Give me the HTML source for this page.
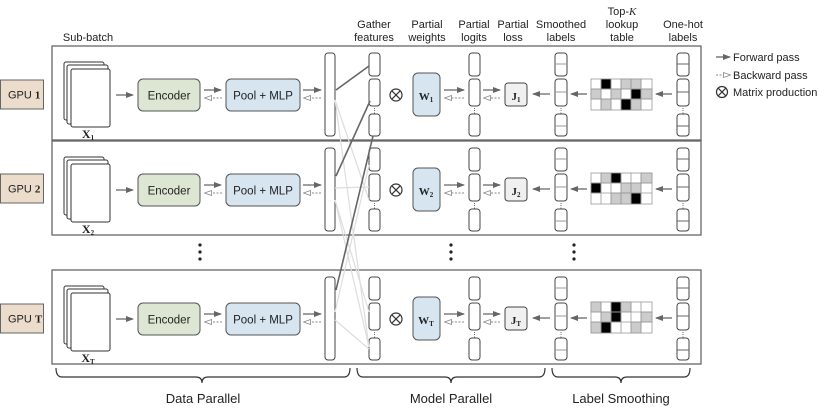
<!DOCTYPE html>
<html><head><style>body{margin:0;background:#fff}svg{display:block}</style></head><body>
<svg width="824" height="412" viewBox="0 0 824 412" xmlns="http://www.w3.org/2000/svg" font-family="Liberation Sans, sans-serif">
<defs>
<marker id="fa" markerWidth="8" markerHeight="6" refX="7" refY="3" orient="auto" markerUnits="userSpaceOnUse"><path d="M0,0 L8,3 L0,6z" fill="#666"/></marker>
<marker id="ba" markerWidth="8" markerHeight="6" refX="7" refY="3" orient="auto" markerUnits="userSpaceOnUse"><path d="M0.5,0.5 L7.5,3 L0.5,5.5z" fill="#fff" stroke="#888" stroke-width="0.8"/></marker>
<g id="panel">
 <rect x="52" y="0" width="649" height="94" fill="#fff" stroke="#666" stroke-width="1.3"/>
 <rect x="64" y="16" width="40" height="58" rx="2" fill="#fff" stroke="#333"/>
 <rect x="67" y="19" width="41" height="59" rx="2" fill="#fff" stroke="#333"/>
 <rect x="71" y="23" width="39" height="58" rx="2" fill="#fff" stroke="#333"/>
 <line x1="116" y1="49" x2="133" y2="49" stroke="#666" stroke-width="1.3" marker-end="url(#fa)"/>
 <rect x="138" y="33" width="62" height="32" rx="5" fill="#dde6d2" stroke="#555"/>
 <text x="169" y="53.5" font-size="11.5" text-anchor="middle" fill="#222">Encoder</text>
 <line x1="204" y1="44" x2="221" y2="44" stroke="#666" stroke-width="1.3" marker-end="url(#fa)"/>
 <line x1="222" y1="52" x2="205" y2="52" stroke="#888" stroke-dasharray="2,1.5" marker-end="url(#ba)"/>
 <rect x="226" y="33" width="74" height="32" rx="5" fill="#d7e5f0" stroke="#555"/>
 <text x="263" y="53.5" font-size="11.5" text-anchor="middle" fill="#222">Pool + MLP</text>
 <line x1="303" y1="44" x2="321" y2="44" stroke="#666" stroke-width="1.3" marker-end="url(#fa)"/>
 <line x1="321" y1="52" x2="304" y2="52" stroke="#888" stroke-dasharray="2,1.5" marker-end="url(#ba)"/>
 <rect x="325" y="7" width="10" height="83" rx="3" fill="#fff" stroke="#444"/>
 <!-- gather -->
 <rect x="369" y="7" width="11" height="23" rx="3" fill="#fff" stroke="#444"/>
 <rect x="369" y="33" width="11" height="27" rx="3" fill="#fff" stroke="#444"/>
 <text x="374.5" y="67" font-size="7" text-anchor="middle" fill="#333">⋮</text>
 <rect x="369" y="68" width="11" height="22" rx="3" fill="#fff" stroke="#444"/>
 <circle cx="396" cy="49" r="6" fill="none" stroke="#333" stroke-width="1.2"/>
 <path d="M391.8,44.8 L400.2,53.2 M400.2,44.8 L391.8,53.2" stroke="#333" stroke-width="1.2"/>
 <rect x="413" y="27" width="27" height="43" rx="5" fill="#d7e5f0" stroke="#555"/>
 <line x1="444" y1="44" x2="464" y2="44" stroke="#666" stroke-width="1.3" marker-end="url(#fa)"/>
 <line x1="464" y1="52" x2="445" y2="52" stroke="#888" stroke-dasharray="2,1.5" marker-end="url(#ba)"/>
 <rect x="469" y="7" width="11" height="23" rx="3" fill="#fff" stroke="#444"/>
 <rect x="469" y="33" width="11" height="27" rx="3" fill="#fff" stroke="#444"/>
 <text x="474.5" y="67" font-size="7" text-anchor="middle" fill="#333">⋮</text>
 <rect x="469" y="68" width="11" height="22" rx="3" fill="#fff" stroke="#444"/>
 <line x1="483" y1="44" x2="500" y2="44" stroke="#666" stroke-width="1.3" marker-end="url(#fa)"/>
 <line x1="500" y1="52" x2="484" y2="52" stroke="#888" stroke-dasharray="2,1.5" marker-end="url(#ba)"/>
 <rect x="505" y="37" width="22" height="23" rx="3" fill="#f0f0f0" stroke="#444"/>
 <line x1="550" y1="48" x2="533" y2="48" stroke="#666" stroke-width="1.3" marker-end="url(#fa)"/>
 <rect x="555" y="7" width="12" height="23" rx="3" fill="#fff" stroke="#444"/>
 <line x1="555" y1="18" x2="567" y2="18" stroke="#999"/>
 <rect x="555" y="33" width="12" height="27" rx="3" fill="#fff" stroke="#444"/>
 <line x1="555" y1="46" x2="567" y2="46" stroke="#999"/>
 <text x="561" y="67" font-size="7" text-anchor="middle" fill="#333">⋮</text>
 <rect x="555" y="68" width="12" height="22" rx="3" fill="#fff" stroke="#444"/>
 <line x1="555" y1="80" x2="567" y2="80" stroke="#999"/>
 <line x1="587" y1="48" x2="571" y2="48" stroke="#666" stroke-width="1.3" marker-end="url(#fa)"/>
 <line x1="672" y1="48" x2="656" y2="48" stroke="#666" stroke-width="1.3" marker-end="url(#fa)"/>
 <rect x="677" y="7" width="12" height="23" rx="3" fill="#fff" stroke="#444"/>
 <line x1="677" y1="18" x2="689" y2="18" stroke="#666"/>
 <rect x="677" y="33" width="12" height="27" rx="3" fill="#fff" stroke="#444"/>
 <line x1="677" y1="46" x2="689" y2="46" stroke="#666"/>
 <text x="683" y="67" font-size="7" text-anchor="middle" fill="#333">⋮</text>
 <rect x="677" y="68" width="12" height="22" rx="3" fill="#fff" stroke="#444"/>
 <line x1="677" y1="80" x2="689" y2="80" stroke="#666"/>
</g>
</defs>

<!-- headers -->
<g font-size="11" fill="#222" text-anchor="middle">
<text x="88" y="41">Sub-batch</text>
<text x="374" y="28">Gather</text><text x="374" y="41">features</text>
<text x="427" y="28">Partial</text><text x="427" y="41">weights</text>
<text x="474" y="28">Partial</text><text x="474" y="41">logits</text>
<text x="513" y="28">Partial</text><text x="513" y="41">loss</text>
<text x="561" y="28">Smoothed</text><text x="561" y="41">labels</text>
<text x="622" y="15">Top-<tspan font-style="italic" font-family="Liberation Serif, serif">K</tspan></text><text x="622" y="28">lookup</text><text x="622" y="41">table</text>
<text x="683" y="28">One-hot</text><text x="683" y="41">labels</text>
</g>

<use href="#panel" y="46"/>
<use href="#panel" y="141"/>
<use href="#panel" y="270"/>

<!-- GPU labels -->
<g font-size="11" fill="#222">
<rect x="0.5" y="80" width="43" height="29" fill="#ecdccb" stroke="#666"/>
<text x="8" y="98.5">GPU <tspan font-family="Liberation Serif, serif" font-weight="bold">1</tspan></text>
<rect x="0.5" y="174" width="43" height="29" fill="#ecdccb" stroke="#666"/>
<text x="8" y="192.5">GPU <tspan font-family="Liberation Serif, serif" font-weight="bold">2</tspan></text>
<rect x="0.5" y="304" width="43" height="29" fill="#ecdccb" stroke="#666"/>
<text x="8" y="322.5">GPU <tspan font-family="Liberation Serif, serif" font-weight="bold">T</tspan></text>
</g>

<!-- math labels -->
<g font-family="Liberation Serif, serif" font-weight="bold" fill="#222" text-anchor="middle">
<text x="88" y="138" font-size="12">X<tspan font-size="7" dy="2">1</tspan></text>
<text x="88" y="233" font-size="12">X<tspan font-size="7" dy="2">2</tspan></text>
<text x="88" y="362" font-size="12">X<tspan font-size="7" dy="2">T</tspan></text>
<text x="426" y="100" font-size="11">W<tspan font-size="7" dy="2">1</tspan></text>
<text x="426" y="195" font-size="11">W<tspan font-size="7" dy="2">2</tspan></text>
<text x="426" y="324" font-size="11">W<tspan font-size="7" dy="2">T</tspan></text>
<text x="516" y="100" font-size="11">J<tspan font-size="7" dy="2">1</tspan></text>
<text x="516" y="195" font-size="11">J<tspan font-size="7" dy="2">2</tspan></text>
<text x="516" y="324" font-size="11">J<tspan font-size="7" dy="2">T</tspan></text>
</g>

<!-- crossing lines -->
<g stroke="#ddd" stroke-width="1.2">
<line x1="335" y1="100" x2="369" y2="200"/>
<line x1="335" y1="100" x2="369" y2="347"/>
<line x1="335" y1="188" x2="369" y2="187"/>
<line x1="335" y1="200" x2="369" y2="312"/>
<line x1="335" y1="312" x2="369" y2="165"/>
<line x1="335" y1="320" x2="369" y2="349"/>
<line x1="335" y1="200" x2="369" y2="347"/>
</g>
<g stroke="#666" stroke-width="1.6">
<line x1="336" y1="90" x2="369" y2="66"/>
<line x1="336" y1="176" x2="370" y2="101"/>
<line x1="336" y1="290" x2="373" y2="136"/>
</g>

<!-- lookup tables -->
<g stroke="#999" stroke-width="0.8">
<g transform="translate(591,79)">
<rect width="61" height="31" fill="#fff"/>
<rect x="10" y="0" width="10" height="10" fill="#000"/><rect x="30" y="0" width="10" height="10" fill="#ccc"/><rect x="40" y="0" width="10" height="10" fill="#ccc"/>
<rect x="0" y="10" width="10" height="10" fill="#ccc"/><rect x="20" y="10" width="10" height="10" fill="#ccc"/><rect x="40" y="10" width="10" height="10" fill="#000"/><rect x="50" y="10" width="11" height="10" fill="#ccc"/>
<rect x="10" y="20" width="10" height="11" fill="#ccc"/><rect x="30" y="20" width="10" height="11" fill="#000"/><rect x="40" y="20" width="10" height="11" fill="#ccc"/>
<path d="M10,0V31M20,0V31M30,0V31M40,0V31M50,0V31M0,10H61M0,20H61" fill="none"/>
</g>
<g transform="translate(591,173)">
<rect width="61" height="31" fill="#fff"/>
<rect x="10" y="0" width="10" height="10" fill="#ccc"/><rect x="20" y="0" width="10" height="10" fill="#000"/><rect x="50" y="0" width="11" height="10" fill="#ccc"/>
<rect x="0" y="10" width="10" height="10" fill="#000"/><rect x="30" y="10" width="10" height="10" fill="#ccc"/><rect x="40" y="10" width="10" height="10" fill="#ccc"/>
<rect x="20" y="20" width="10" height="11" fill="#ccc"/><rect x="30" y="20" width="10" height="11" fill="#ccc"/><rect x="40" y="20" width="10" height="11" fill="#000"/>
<path d="M10,0V31M20,0V31M30,0V31M40,0V31M50,0V31M0,10H61M0,20H61" fill="none"/>
</g>
<g transform="translate(591,302)">
<rect width="61" height="31" fill="#fff"/>
<rect x="0" y="0" width="10" height="10" fill="#ccc"/><rect x="20" y="0" width="10" height="10" fill="#000"/><rect x="30" y="0" width="10" height="10" fill="#ccc"/>
<rect x="10" y="10" width="10" height="10" fill="#ccc"/><rect x="20" y="10" width="10" height="10" fill="#000"/><rect x="50" y="10" width="11" height="10" fill="#ccc"/>
<rect x="0" y="20" width="10" height="11" fill="#ccc"/><rect x="10" y="20" width="10" height="11" fill="#000"/><rect x="40" y="20" width="10" height="11" fill="#ccc"/>
<path d="M10,0V31M20,0V31M30,0V31M40,0V31M50,0V31M0,10H61M0,20H61" fill="none"/>
</g>
</g>

<!-- vertical dots -->
<g fill="#222">
<circle cx="200" cy="245" r="1.6"/><circle cx="200" cy="252" r="1.6"/><circle cx="200" cy="259" r="1.6"/>
<circle cx="451" cy="245" r="1.6"/><circle cx="451" cy="252" r="1.6"/><circle cx="451" cy="259" r="1.6"/>
<circle cx="574" cy="245" r="1.6"/><circle cx="574" cy="252" r="1.6"/><circle cx="574" cy="259" r="1.6"/>
</g>

<!-- legend -->
<g font-size="11" fill="#222">
<line x1="716" y1="57" x2="730" y2="57" stroke="#666" stroke-width="1.3" marker-end="url(#fa)"/>
<text x="733" y="61">Forward pass</text>
<line x1="716" y1="75" x2="730" y2="75" stroke="#888" stroke-dasharray="2,1.5" marker-end="url(#ba)"/>
<text x="733" y="79">Backward pass</text>
<circle cx="722" cy="92" r="5.5" fill="none" stroke="#333" stroke-width="1.2"/>
<path d="M718.2,88.2 L725.8,95.8 M725.8,88.2 L718.2,95.8" stroke="#333" stroke-width="1.2"/>
<text x="733" y="96">Matrix production</text>
</g>

<!-- braces -->
<g fill="none" stroke="#333" stroke-width="1.2">
<path d="M56,368 Q56,377 62,377 H196 Q202,377 202,383 Q202,377 208,377 H344 Q350,377 350,368"/>
<path d="M357,368 Q357,377 363,377 H445 Q451,377 451,383 Q451,377 457,377 H539 Q545,377 545,368"/>
<path d="M552,368 Q552,377 558,377 H615 Q621,377 621,383 Q621,377 627,377 H684 Q690,377 690,368"/>
</g>
<g font-size="13" fill="#222" text-anchor="middle">
<text x="203" y="403">Data Parallel</text>
<text x="451" y="403">Model Parallel</text>
<text x="621" y="403">Label Smoothing</text>
</g>
</svg>
</body></html>
